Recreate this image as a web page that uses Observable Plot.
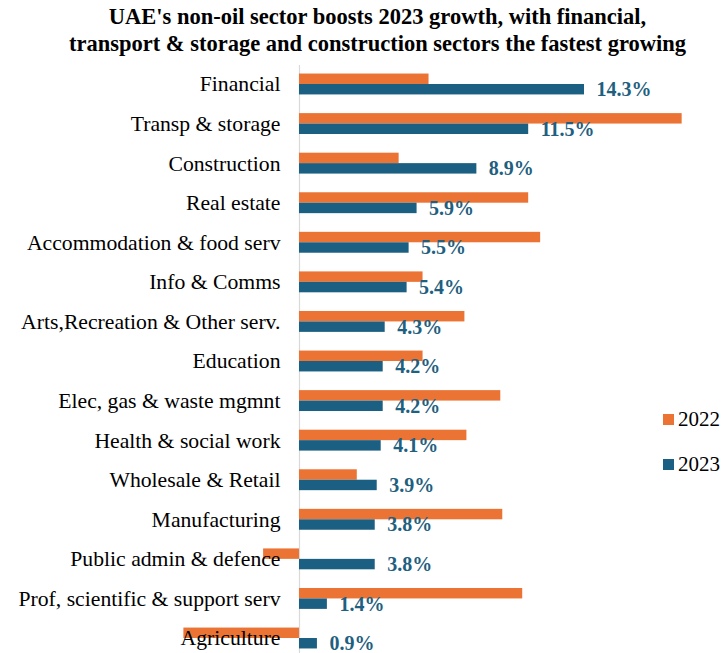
<!DOCTYPE html>
<html>
<head>
<meta charset="utf-8">
<script src="https://cdn.jsdelivr.net/npm/d3@7"></script>
<script src="https://cdn.jsdelivr.net/npm/@observablehq/plot@0.6"></script>
<style>
  html, body { margin: 0; padding: 0; background: #fff; }
  body { width: 725px; height: 653px; position: relative; overflow: hidden; font-family: "Liberation Serif", "Times New Roman", serif; }
  #title { height: 60px; box-sizing: border-box; padding: 3px 0 0 15px; width: 740px; text-align: center;
           font-weight: bold; font-size: 22.5px; line-height: 27px; color: #000; white-space: nowrap; }
  #legend { position: absolute; left: 663px; top: 406px; font-size: 21px; color: #000; }
  #legend .item { display: flex; align-items: center; height: 26px; margin-bottom: 19.5px; }
  #legend .sw { width: 11px; height: 11px; margin-right: 4px; }
  #chart svg { overflow: visible; }
</style>
</head>
<body>
<div id="title">UAE's non-oil sector boosts 2023 growth, with financial,<br>transport &amp; storage and construction sectors the fastest growing</div>
<div id="chart"></div>
<div id="legend"></div>
<script>
const categories = [
  "Financial", "Transp & storage", "Construction", "Real estate",
  "Accommodation & food serv", "Info & Comms", "Arts,Recreation & Other serv.",
  "Education", "Elec, gas & waste mgmnt", "Health & social work",
  "Wholesale & Retail", "Manufacturing", "Public admin & defence",
  "Prof, scientific & support serv", "Agriculture"
];
const values2022 = [6.5, 19.2, 5.0, 11.5, 12.1, 6.2, 8.3, 6.2, 10.1, 8.4, 2.9, 10.2, -1.8, 11.2, -5.8];
const values2023 = [14.3, 11.5, 8.9, 5.9, 5.5, 5.4, 4.3, 4.2, 4.2, 4.1, 3.9, 3.8, 3.8, 1.4, 0.9];
const seriesNames = ["2022", "2023"];
const seriesColors = ["#EB7434", "#1B5F82"];
const labelColor = "#1F5F80";

const rows = categories.map((c, i) => ({category: c, v2022: values2022[i], v2023: values2023[i]}));

const half = 19.79, barH = 10.45;

const chart = Plot.plot({
  width: 725,
  height: 593,
  marginTop: 5,
  marginBottom: 0,
  marginLeft: 0,
  marginRight: 0,
  x: {domain: [-6, 20], range: [179.4, 697.6], axis: null},
  y: {domain: categories, range: [4.2, 597.8], padding: 0, round: false, axis: null},
  style: {fontFamily: "'Liberation Serif', 'Times New Roman', serif", background: "#fff"},
  marks: [
    Plot.ruleX([0], {stroke: "#d9d9d9", strokeWidth: 1.2}),
    Plot.barX(rows, {x: "v2022", y: "category", fill: seriesColors[0], insetTop: half - barH, insetBottom: half}),
    Plot.barX(rows, {x: "v2023", y: "category", fill: seriesColors[1], insetTop: half, insetBottom: half - barH}),
    Plot.text(rows, {x: "v2023", y: "category", text: d => d.v2023.toFixed(1) + "%", dx: 12, dy: barH / 2,
      textAnchor: "start", fill: labelColor, fontWeight: "bold", fontSize: 20}),
    Plot.text(rows, {x: () => 0, y: "category", text: "category", dx: -19, textAnchor: "end",
      fill: "#000", fontSize: 21.7})
  ]
});
document.getElementById("chart").appendChild(chart);

const legend = document.getElementById("legend");
seriesNames.forEach((name, i) => {
  const item = document.createElement("div");
  item.className = "item";
  const sw = document.createElement("div");
  sw.className = "sw";
  sw.style.background = seriesColors[i];
  const t = document.createElement("span");
  t.textContent = name;
  item.appendChild(sw);
  item.appendChild(t);
  legend.appendChild(item);
});
</script>
</body>
</html>
